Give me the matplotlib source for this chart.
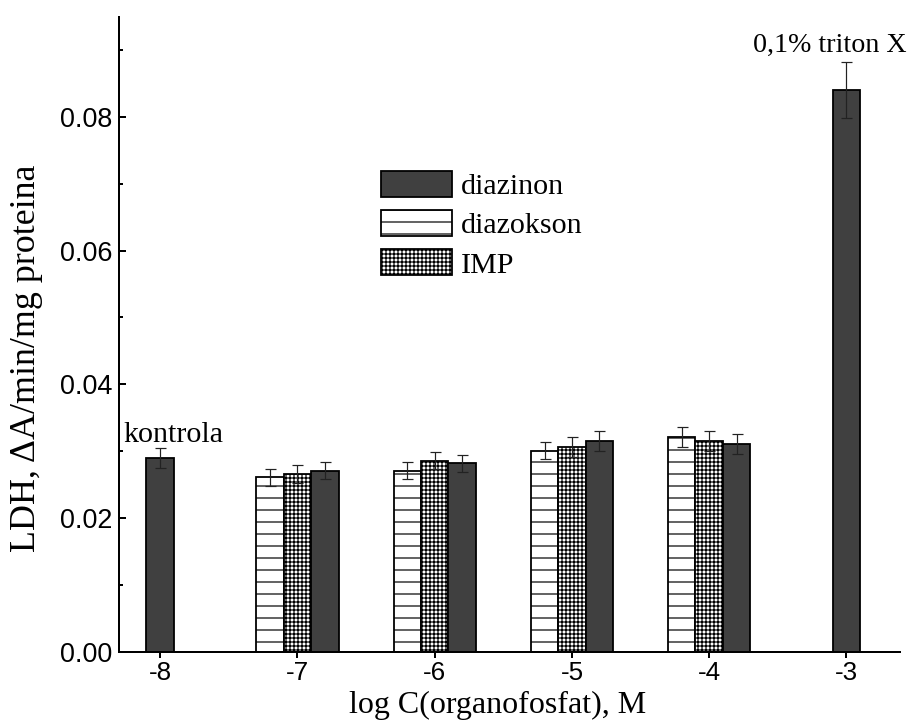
import numpy as np
import matplotlib
matplotlib.use("Agg")
import matplotlib.pyplot as plt
from matplotlib.ticker import MultipleLocator

# data
x_groups = [-7, -6, -5, -4]
diazokson = [0.0261, 0.0271, 0.0301, 0.0321]
diazokson_err = [0.0013, 0.0013, 0.0013, 0.0015]
imp = [0.0266, 0.0286, 0.0306, 0.0316]
imp_err = [0.0013, 0.0013, 0.0015, 0.0015]
diazinon_x = [-8, -7, -6, -5, -4, -3]
diazinon = [0.0290, 0.0271, 0.0282, 0.0316, 0.0311, 0.0840]
diazinon_err = [0.0015, 0.0013, 0.0013, 0.0015, 0.0015, 0.0042]
xticks = [-8, -7, -6, -5, -4, -3]

W = 0.2
DARK = "#404040"

plt.rcParams["hatch.linewidth"] = 1.2
plt.rcParams["hatch.color"] = "black"

# dpi 72 -> 1 pt == 1 px, hatch spacing 12 px for '-'
fig = plt.figure(figsize=(917 / 72, 725 / 72), dpi=72)
ax = fig.add_axes([119 / 917, 1 - 652 / 725, (900 - 119) / 917, (652 - 17) / 725])

ekw = dict(ecolor="#222222", elinewidth=1.2, capsize=5.5, capthick=1.2)

xd = np.array(x_groups)
ax.bar(xd - W, diazokson, W, yerr=diazokson_err, color="white", edgecolor="black",
       linewidth=1.8, hatch="-", label="diazokson", error_kw=ekw, zorder=2)
ax.bar(xd, imp, W, yerr=imp_err, color="white", edgecolor="black",
       linewidth=1.8, hatch="+++", label="IMP", error_kw=ekw, zorder=2)
xz = np.array(diazinon_x, dtype=float)
xz[1:5] = xz[1:5] + W
ax.bar(xz, diazinon, W, yerr=diazinon_err, color=DARK, edgecolor="black",
       linewidth=1.8, label="diazinon", error_kw=ekw, zorder=2)

ax.text(-7.9, 0.0325, "kontrola", family="Liberation Serif", fontsize=30,
        ha="center", va="center")
ax.text(-3.12, 0.0907, "0,1% triton X", family="Liberation Serif", fontsize=28,
        ha="center", va="center")

ax.set_xlim(-8.30, -2.61)
ax.set_ylim(0, 0.0949)
ax.set_xticks(xticks)
ax.set_xticklabels([str(v) for v in xticks])
ax.yaxis.set_major_locator(MultipleLocator(0.02))
ax.yaxis.set_minor_locator(MultipleLocator(0.01))
ax.yaxis.set_major_formatter(matplotlib.ticker.FormatStrFormatter("%.2f"))

for s in ["top", "right"]:
    ax.spines[s].set_visible(False)
for s in ["left", "bottom"]:
    ax.spines[s].set_linewidth(2)

ax.tick_params(axis="x", direction="out", length=6, width=2, labelsize=26, pad=3)
ax.tick_params(axis="y", which="major", direction="in", length=7, width=2, labelsize=27, pad=7)
ax.tick_params(axis="y", which="minor", direction="in", length=4, width=2)
for lab in ax.get_xticklabels() + ax.get_yticklabels():
    lab.set_family("Liberation Sans")

ax.set_xlabel("log C(organofosfat), M", family="Liberation Serif", fontsize=32)
ax.set_ylabel("LDH, \u0394A/min/mg proteina", family="Liberation Serif", fontsize=36)
ax.xaxis.set_label_coords(0.485, -0.062)
ax.yaxis.set_label_coords(-0.097, 0.463)

h, l = ax.get_legend_handles_labels()
order = [2, 0, 1]
ax.legend([h[i] for i in order], [l[i] for i in order], loc="upper left",
          bbox_to_anchor=(381 / 917, 1 - 171 / 725), bbox_transform=fig.transFigure,
          frameon=False, prop={"family": "Liberation Serif", "size": 30},
          handlelength=2.35, handleheight=0.95, handletextpad=0.3,
          labelspacing=0.33, borderpad=0, borderaxespad=0)

fig.savefig("out.png", dpi=72)
